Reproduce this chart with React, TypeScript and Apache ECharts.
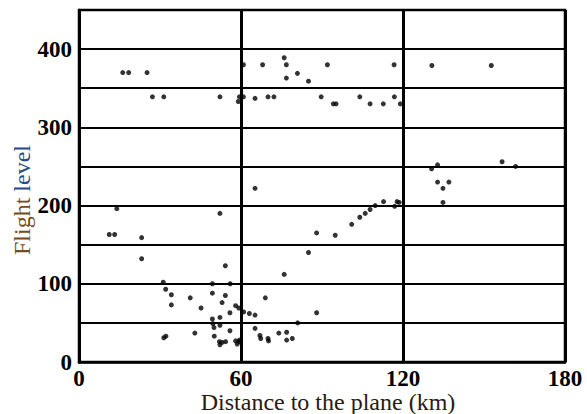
import React, { useEffect, useRef } from "react";
import * as echarts from "echarts";

const xTicks = [0, 60, 120, 180];
const yTickLabels = [0, 100, 200, 300, 400];

// [distance km, flight level]
const upperPoints: number[][] = [
  [16.2, 370], [18.4, 370], [25.2, 370],
  [27.2, 339], [31.4, 339], [52.2, 339],
  [59.0, 333], [59.4, 339], [60.9, 339], [60.9, 380],
  [65.2, 337], [68.0, 380], [70.0, 339], [72.2, 339],
  [76.0, 389], [76.8, 380], [76.8, 363], [80.9, 369], [85.0, 359],
  [89.7, 339], [92.0, 380], [94.2, 330], [95.2, 330], [104.0, 339],
  [107.8, 330], [112.7, 330], [116.8, 339], [116.7, 380], [119.0, 330],
  [130.7, 379], [152.7, 379],
];

const middlePoints: number[][] = [
  [14.0, 196], [11.2, 163], [13.2, 163], [23.2, 159], [23.2, 132],
  [52.2, 190], [54.2, 123], [65.2, 222],
  [85.0, 140], [88.0, 165], [94.9, 162], [101.0, 176], [104.0, 185],
  [106.0, 190], [107.8, 195], [109.7, 200], [112.8, 205], [116.9, 199],
  [117.8, 205], [118.6, 204],
  [130.6, 247], [132.8, 252], [156.7, 256], [161.7, 250],
  [132.8, 230], [137.0, 230], [134.8, 222], [134.8, 204],
];

const lowerPoints: number[][] = [
  [31.2, 102], [32.1, 93], [34.2, 86], [34.2, 73], [41.2, 82], [45.2, 69],
  [49.4, 100], [49.4, 88], [54.2, 85], [56.0, 100], [53.0, 76], [58.0, 72],
  [59.2, 69], [55.9, 63], [49.4, 55], [52.2, 57], [49.6, 49], [50.0, 44],
  [52.2, 47], [55.9, 40], [42.9, 37], [50.1, 33], [31.4, 31], [32.2, 33],
  [52.0, 26], [52.2, 22], [53.0, 25], [54.3, 26], [58.0, 27], [58.6, 23],
  [59.3, 26], [59.4, 28],
  [61.0, 64], [63.1, 62], [65.2, 60], [65.2, 43], [69.0, 82], [67.0, 34],
  [67.3, 30], [70.0, 30], [70.2, 27], [74.0, 37], [76.9, 38], [76.9, 28],
  [79.0, 30], [76.0, 112], [81.0, 50], [88.0, 63],
];

const allPoints = [...upperPoints, ...middlePoints, ...lowerPoints];

export default function App() {
  const ref = useRef<HTMLDivElement>(null);
  useEffect(() => {
    if (!ref.current) return;
    const chart = echarts.init(ref.current, null, { renderer: "svg" });
    const font = "Liberation Serif";
    const tickLabel = {
      show: true,
      color: "#000",
      fontFamily: font,
      fontWeight: "bold",
      fontSize: 23,
    };
    chart.setOption({
      animation: false,
      backgroundColor: "#ffffff",
      textStyle: { fontFamily: font },
      grid: {
        left: 79,
        right: 22,
        top: 10,
        bottom: 52,
        show: true,
        borderColor: "#000",
        borderWidth: 2.5,
        backgroundColor: "transparent",
      },
      xAxis: {
        type: "value",
        min: 0,
        max: 180,
        interval: 60,
        axisLine: { show: true, lineStyle: { color: "#000", width: 2.5 } },
        axisTick: { show: false },
        splitLine: { show: true, lineStyle: { color: "#000", width: 3 } },
        axisLabel: {
          ...tickLabel,
          margin: 5,
          formatter: (v: number) => (xTicks.includes(v) ? String(v) : ""),
        },
      },
      yAxis: {
        type: "value",
        min: 0,
        max: 450,
        interval: 50,
        axisLine: { show: true, lineStyle: { color: "#000", width: 2.5 } },
        axisTick: { show: false },
        splitLine: { show: true, lineStyle: { color: "#000", width: 2 } },
        axisLabel: {
          ...tickLabel,
          margin: 7,
          formatter: (v: number) => (yTickLabels.includes(v) ? String(v) : ""),
        },
      },
      graphic: [
        {
          type: "text",
          x: 22,
          y: 200,
          rotation: Math.PI / 2,
          style: {
            text: "{a|Flight} {b|level}",
            rich: {
              a: { fill: "#7a4a20", fontFamily: font, fontSize: 24 },
              b: { fill: "#2a4a8a", fontFamily: font, fontSize: 24 },
            },
            fontFamily: font,
            fontSize: 24,
            align: "center",
            verticalAlign: "middle",
          },
        },
        {
          type: "text",
          x: 328,
          y: 402,
          style: {
            text: "Distance to the plane (km)",
            fill: "#2a1a10",
            fontFamily: font,
            fontSize: 24,
            align: "center",
            verticalAlign: "middle",
          },
        },
      ],
      series: [
        {
          type: "scatter",
          data: allPoints,
          symbol: "circle",
          symbolSize: 5,
          itemStyle: { color: "#000" },
          silent: true,
        },
      ],
    });
    return () => chart.dispose();
  }, []);
  return <div ref={ref} style={{ width: 587, height: 414, position: "absolute", left: 0, top: 0 }} />;
}
